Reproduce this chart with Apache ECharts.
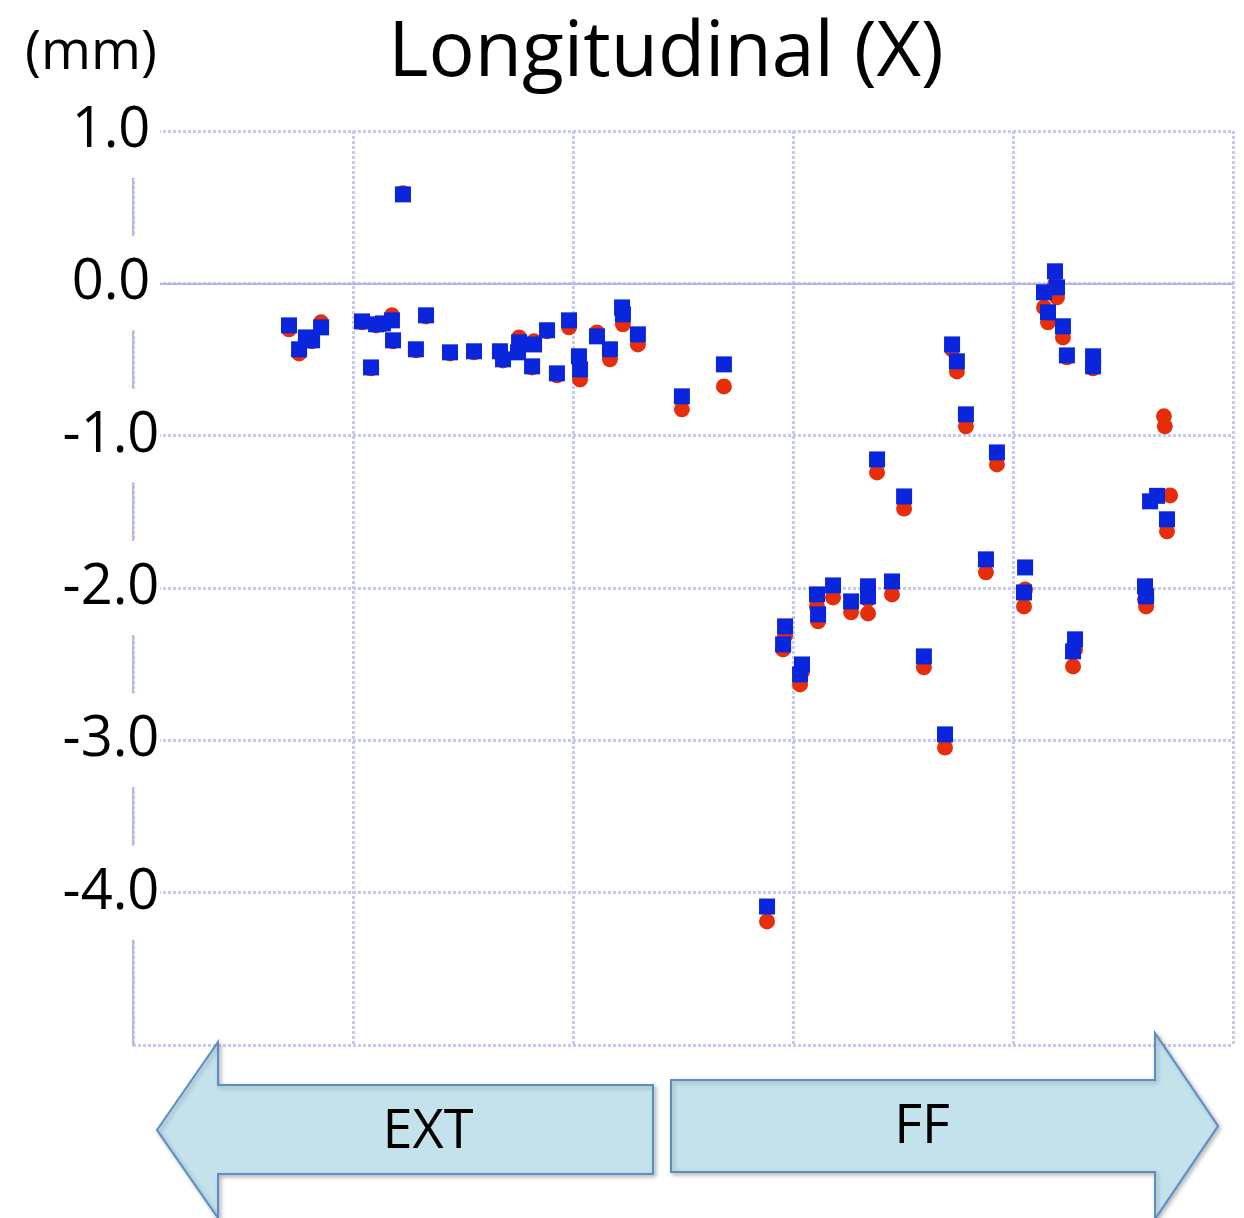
<!DOCTYPE html>
<html>
<head>
<meta charset="utf-8">
<title>Longitudinal (X)</title>
<script src="https://cdn.jsdelivr.net/npm/echarts@6/dist/echarts.min.js"></script>
<style>
  html, body { margin: 0; padding: 0; background: #fff; }
  #chart { width: 1244px; height: 1218px; }
</style>
</head>
<body>
<div id="chart"></div>
<script>
// Position along the beam line (arbitrary units, EXT on the left, FF on the right)
const positions = [
  0.709, 0.755, 0.786, 0.814, 0.855, 1.041, 1.082, 1.105, 1.136, 1.177,
  1.182, 1.227, 1.286, 1.332, 1.441, 1.550, 1.668, 1.682, 1.750, 1.755,
  1.823, 1.814, 1.882, 1.927, 1.982, 2.027, 2.032, 2.109, 2.168, 2.223,
  2.227, 2.295, 2.495, 2.686, 2.882, 2.964, 2.955, 3.041, 3.032, 3.109,
  3.114, 3.182, 3.264, 3.341, 3.341, 3.382, 3.450, 3.505, 3.595, 3.691,
  3.723, 3.745, 3.786, 3.877, 3.927, 4.055, 4.050, 4.141, 4.159, 4.191,
  4.200, 4.227, 4.245, 4.273, 4.282, 4.364, 4.364, 4.600, 4.605, 4.623,
  4.655, 4.686, 4.690, 4.714, 4.700
];

// Displacement, first measurement set (blue squares), mm
const blueValues = [
  -0.276, -0.433, -0.355, -0.374, -0.289, -0.250, -0.552, -0.269, -0.263, -0.243,
  -0.374,  0.584, -0.433, -0.210, -0.453, -0.446, -0.446, -0.499, -0.453, -0.387,
  -0.401, -0.545, -0.308, -0.591, -0.243, -0.479, -0.565, -0.348, -0.433, -0.158,
  -0.204, -0.335, -0.742, -0.532, -4.091, -2.252, -2.370, -2.502, -2.567, -2.042,
  -2.173, -1.983, -2.088, -1.989, -2.055, -1.156, -1.957, -1.399, -2.449, -2.961,
  -0.401, -0.512, -0.860, -1.812, -1.110, -1.865, -2.029, -0.059, -0.190,  0.079,
  -0.026, -0.282, -0.473, -2.416, -2.337, -0.479, -0.545, -1.989, -2.055, -1.431,
  -1.395,   null,   null,   null, -1.549
];

// Displacement, second measurement set (red circles), mm
const redValues = [
  -0.302, -0.460, -0.368, -0.381, -0.256, -0.256, -0.558, -0.276, -0.269, -0.210,
  -0.381,  0.591, -0.440, -0.217, -0.460, -0.453, -0.460, -0.506, -0.446, -0.355,
  -0.381, -0.552, -0.315, -0.604, -0.289, -0.486, -0.631, -0.322, -0.499, -0.197,
  -0.269, -0.401, -0.827, -0.677, -4.189, -2.311, -2.403, -2.548, -2.633, -2.121,
  -2.219, -2.062, -2.160, -2.075, -2.167, -1.241, -2.042, -1.478, -2.521, -3.047,
  -0.433, -0.578, -0.939, -1.897, -1.189, -2.010, -2.121, -0.158, -0.256, -0.007,
  -0.092, -0.355, -0.486, -2.515, -2.403, -0.512, -0.558, -2.075, -2.121,   null,
    null, -0.873, -0.939, -1.392, -1.628
];

const yTicks = { min: -5, max: 1, step: 1 };
const xTicks = { min: 0, max: 5, step: 1 };

function toPairs(xs, ys) {
  const out = [];
  xs.forEach((x, i) => { if (ys[i] !== null) out.push([x, ys[i]]); });
  return out;
}

const gridColor = '#c6c9ef';
const axisColor = '#b3b9e6';
const fontFamily = '"Open Sans", "Noto Sans", sans-serif';

const arrowStyle = {
  fill: '#c3e2ec',
  stroke: '#5b8ec6',
  lineWidth: 2,
  shadowBlur: 4,
  shadowOffsetX: 2,
  shadowOffsetY: 2,
  shadowColor: 'rgba(0,0,0,0.25)'
};

const chart = echarts.init(document.getElementById('chart'), null, { renderer: 'canvas' });

chart.setOption({
  backgroundColor: '#ffffff',
  animation: false,
  title: {
    text: 'Longitudinal (X)',
    left: 661,
    top: 11,
    textAlign: 'center',
    textStyle: { fontFamily, fontSize: 77, fontWeight: 'normal', color: '#000' }
  },
  grid: { left: 133, right: 11, top: 131, bottom: 173, containLabel: false },
  xAxis: {
    type: 'value',
    min: xTicks.min,
    max: xTicks.max,
    interval: xTicks.step,
    axisLine: { show: true, lineStyle: { color: axisColor, width: 2 } },
    axisTick: { show: false },
    axisLabel: { show: false },
    splitLine: { show: true, lineStyle: { color: gridColor, width: 3, type: [3, 2] } }
  },
  yAxis: {
    type: 'value',
    name: '(mm)',
    nameLocation: 'end',
    nameGap: 50,
    nameTextStyle: {
      fontFamily, fontSize: 54, color: '#000', align: 'center',
      padding: [0, 0, 0, -84]
    },
    min: yTicks.min,
    max: yTicks.max,
    interval: yTicks.step,
    axisLine: { show: true, onZero: false, lineStyle: { color: axisColor, width: 2 } },
    axisTick: { show: false },
    axisLabel: {
      showMinLabel: false,
      formatter: v => v.toFixed(1),
      fontFamily,
      fontSize: 56,
      color: '#000',
      align: 'center',
      verticalAlign: 'middle',
      margin: 22,
      width: 98,
      height: 94,
      lineHeight: 94,
      backgroundColor: '#ffffff'
    },
    splitLine: { show: true, lineStyle: { color: gridColor, width: 3, type: [3, 2] } }
  },
  series: [
    {
      name: 'set 2',
      type: 'scatter',
      symbol: 'circle',
      symbolSize: 16,
      itemStyle: { color: '#e62f0a', opacity: 1 },
      data: toPairs(positions, redValues),
      z: 2
    },
    {
      name: 'set 1',
      type: 'scatter',
      symbol: 'rect',
      symbolSize: 16,
      itemStyle: { color: '#0a26dc', opacity: 1 },
      data: toPairs(positions, blueValues),
      z: 3
    }
  ],
  graphic: [
    {
      type: 'polygon',
      shape: { points: [[157, 1130], [218, 1042], [218, 1085], [653, 1085], [653, 1174], [218, 1174], [218, 1218]] },
      style: arrowStyle,
      z: 10
    },
    {
      type: 'text',
      x: 428, y: 1133,
      style: { text: 'EXT', fontFamily, fontSize: 54, fill: '#000', align: 'center', verticalAlign: 'middle' },
      z: 11
    },
    {
      type: 'polygon',
      shape: { points: [[671, 1080], [1155, 1080], [1155, 1033], [1218, 1126], [1155, 1219], [1155, 1172], [671, 1172]] },
      style: arrowStyle,
      z: 10
    },
    {
      type: 'text',
      x: 922, y: 1128,
      style: { text: 'FF', fontFamily, fontSize: 54, fill: '#000', align: 'center', verticalAlign: 'middle' },
      z: 11
    }
  ]
});
</script>
</body>
</html>
